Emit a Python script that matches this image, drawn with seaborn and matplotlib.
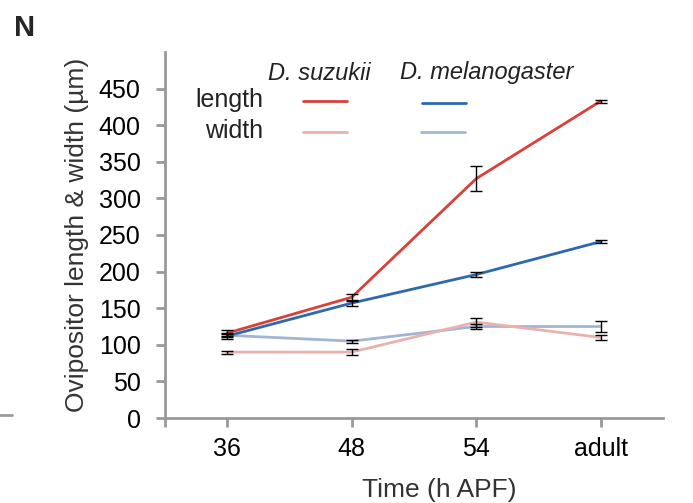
import numpy as np
import pandas as pd
import matplotlib
matplotlib.use("Agg")
import matplotlib.pyplot as plt
from matplotlib.lines import Line2D
import seaborn as sns

# data
times = ["36", "48", "54", "adult"]
suz_length = [116, 165, 327, 433]
suz_length_err = [4, 5, 17, 2]
suz_width = [90, 90, 131, 110]
suz_width_err = [2, 4, 6, 4]
mel_length = [112, 157, 196, 241]
mel_length_err = [4, 4, 4, 2]
mel_width = [113, 105, 125, 125]
mel_width_err = [2, 2, 4, 8]

series = ["suz_length", "suz_width", "mel_length", "mel_width"]
colors = {"suz_length": "#d8403a", "suz_width": "#eab2ae",
          "mel_length": "#2c69ad", "mel_width": "#a2b5d3"}

vals = [suz_length, suz_width, mel_length, mel_width]
errs = [suz_length_err, suz_width_err, mel_length_err, mel_width_err]
pos = np.arange(len(times))
rows = []
for name, v, e in zip(series, vals, errs):
    for i, t in enumerate(times):
        rows.append({"pos": pos[i], "time": t, "series": name, "value": v[i], "err": e[i]})
df = pd.DataFrame(rows)

sns.set_style("ticks")
plt.rcParams["font.family"] = ["Liberation Sans", "DejaVu Sans"]

fig = plt.figure(figsize=(6.93, 5.03), dpi=100)
ax = fig.add_axes([165 / 693, 1 - 418 / 503, (663 - 165) / 693, (418 - 52) / 503])

# draw width lines first, length on top
order = ["mel_width", "suz_width", "mel_length", "suz_length"]
for name in order:
    d = df[df.series == name]
    sns.lineplot(data=d, x="pos", y="value", color=colors[name], lw=2, ax=ax, legend=False)
for name in order:
    d = df[df.series == name]
    ax.errorbar(d["pos"], d["value"], yerr=d["err"], fmt="none", ecolor="black",
                elinewidth=1, capsize=4.5, capthick=1, zorder=5)

ax.set_xlim(-0.5, 3.5)
ax.set_ylim(0, 500)
ax.set_xticks(pos)
ax.set_xticklabels(times)
ax.set_xticks([-0.5], minor=True)
ax.set_yticks(np.arange(0, 451, 50))
ax.set_xlabel("Time (h APF)", fontsize=19, color="#333333")
ax.xaxis.set_label_coords(0.55, -0.165)
ax.set_ylabel("Ovipositor length & width (µm)", fontsize=19, color="#333333", labelpad=7)
ax.tick_params(axis="both", which="both", labelsize=18, colors="#999999", labelcolor="black",
               width=2, length=6.5, direction="out")
ax.tick_params(axis="y", pad=11)
ax.tick_params(axis="x", pad=7)
for s in ["left", "bottom"]:
    ax.spines[s].set_color("#999999")
    ax.spines[s].set_linewidth(2)
sns.despine(ax=ax)

# manual legend
fig.text(268 / 693, 1 - 73 / 503, "D. suzukii", style="italic", fontsize=17,
         color="#222222", ha="left", va="center")
fig.text(400 / 693, 1 - 73 / 503, "D. melanogaster", style="italic", fontsize=17,
         color="#222222", ha="left", va="center")
fig.text(263 / 693, 1 - 100 / 503, "length", fontsize=18, color="#222222", ha="right", va="center")
fig.text(263 / 693, 1 - 131 / 503, "width", fontsize=18, color="#222222", ha="right", va="center")
for x0, y0, name in [(303, 101, "suz_length"), (303, 132, "suz_width"),
                     (422, 103, "mel_length"), (421, 132, "mel_width")]:
    fig.add_artist(Line2D([x0 / 693, (x0 + 44) / 693], [1 - y0 / 503, 1 - y0 / 503],
                          color=colors[name], lw=2))

fig.text(14 / 693, 1 - 28 / 503, "N", fontsize=21, fontweight="bold", ha="left", va="center")
# fragment of neighbouring panel
fig.add_artist(Line2D([0, 12 / 693], [1 - 415 / 503, 1 - 415 / 503], color="#999999", lw=2))

fig.savefig("out.png", dpi=100)
